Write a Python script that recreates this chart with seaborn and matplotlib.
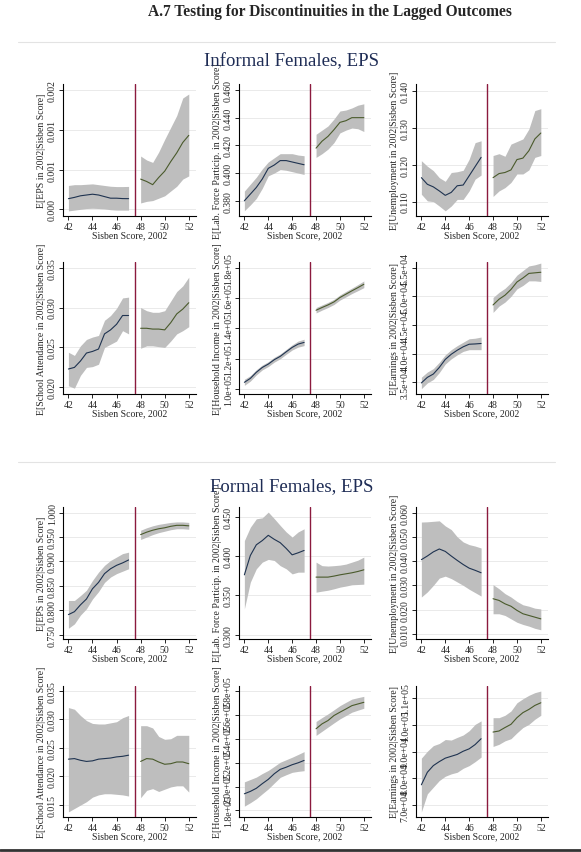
import matplotlib
matplotlib.use("Agg")
import matplotlib.pyplot as plt
from matplotlib.lines import Line2D
import seaborn as sns
import pandas as pd

# score grid (two sides of the cutoff)
x_left = [42, 42.5, 43, 43.5, 44, 44.5, 45, 45.5, 46, 46.5, 47]
x_right = [48, 48.5, 49, 49.5, 50, 50.5, 51, 51.5, 52]
cutoff = 47.5

# ---- Informal females ----
inf_eps_l = [0.000134, 0.00015, 0.00017, 0.00018, 0.00019, 0.00018, 0.00016, 0.00014, 0.00014, 0.000135, 0.000134]
inf_eps_l_lo = [-0.00002, -0.00001, 0.0, 0.00001, 0.000013, 0.00001, 0.000005, -0.000005, -0.00001, -0.00001, -0.00001]
inf_eps_l_hi = [0.0003, 0.00031, 0.00031, 0.000315, 0.00032, 0.00031, 0.0003, 0.00029, 0.000286, 0.000286, 0.000288]
inf_eps_r = [0.00038, 0.00035, 0.00031, 0.0004, 0.00048, 0.0006, 0.00071, 0.00084, 0.00093]
inf_eps_r_lo = [0.00008, 0.0001, 0.00011, 0.00014, 0.00017, 0.00023, 0.00029, 0.00038, 0.00042]
inf_eps_r_hi = [0.00067, 0.00062, 0.00059, 0.00072, 0.00088, 0.00103, 0.00118, 0.0014, 0.00145]

inf_lfp_l = [0.380, 0.3848, 0.3896, 0.3957, 0.4034, 0.4058, 0.409, 0.409, 0.408, 0.407, 0.406]
inf_lfp_l_lo = [0.3728, 0.377, 0.3817, 0.389, 0.398, 0.400, 0.4025, 0.402, 0.401, 0.400, 0.399]
inf_lfp_l_hi = [0.387, 0.392, 0.397, 0.403, 0.408, 0.411, 0.414, 0.414, 0.414, 0.413, 0.4125]
inf_lfp_r = [0.418, 0.423, 0.4265, 0.4313, 0.4366, 0.4378, 0.440, 0.440, 0.440]
inf_lfp_r_lo = [0.4113, 0.414, 0.4173, 0.422, 0.429, 0.431, 0.4325, 0.432, 0.430]
inf_lfp_r_hi = [0.428, 0.431, 0.434, 0.439, 0.4448, 0.4455, 0.447, 0.449, 0.450]

inf_unemp_l = [0.1165, 0.1147, 0.114, 0.1129, 0.1117, 0.1125, 0.1143, 0.1145, 0.117, 0.1195, 0.122]
inf_unemp_l_lo = [0.112, 0.1102, 0.1100, 0.1088, 0.1075, 0.1088, 0.1106, 0.1106, 0.1129, 0.1161, 0.1172]
inf_unemp_l_hi = [0.1211, 0.1196, 0.1184, 0.1165, 0.1155, 0.1179, 0.1181, 0.1185, 0.1215, 0.126, 0.1265]
inf_unemp_r = [0.1165, 0.1176, 0.1179, 0.1186, 0.1214, 0.1218, 0.1238, 0.127, 0.1286]
inf_unemp_r_lo = [0.1114, 0.1129, 0.1138, 0.1152, 0.1175, 0.1175, 0.1186, 0.122, 0.1225]
inf_unemp_r_hi = [0.1225, 0.123, 0.1223, 0.1256, 0.1263, 0.127, 0.1297, 0.1347, 0.1352]

inf_school_l = [0.0223, 0.0225, 0.0233, 0.0243, 0.0245, 0.0248, 0.0267, 0.0272, 0.0279, 0.029, 0.029]
inf_school_l_lo = [0.0202, 0.0199, 0.0215, 0.0225, 0.0226, 0.0229, 0.025, 0.0254, 0.0258, 0.0271, 0.0267]
inf_school_l_hi = [0.0244, 0.024, 0.0252, 0.026, 0.0263, 0.0265, 0.0284, 0.029, 0.0299, 0.0312, 0.0313]
inf_school_r = [0.0274, 0.0274, 0.0273, 0.0273, 0.0272, 0.0281, 0.0292, 0.0298, 0.0306]
inf_school_r_lo = [0.0249, 0.0252, 0.0252, 0.0251, 0.025, 0.0258, 0.0267, 0.0271, 0.0276]
inf_school_r_hi = [0.030, 0.0296, 0.0294, 0.0294, 0.0296, 0.0308, 0.032, 0.0327, 0.0338]

inf_hhinc_l = [104400, 107000, 111000, 114200, 116400, 119300, 121500, 124500, 127400, 129600, 130700]
inf_hhinc_l_lo = [102400, 105200, 109300, 112600, 114800, 117700, 119900, 122900, 125700, 127600, 128600]
inf_hhinc_l_hi = [106400, 108800, 112700, 115800, 118000, 120900, 123100, 126100, 129100, 131600, 132800]
inf_hhinc_r = [151900, 153700, 155400, 157400, 160300, 162500, 164700, 166800, 169000]
inf_hhinc_r_lo = [150100, 152000, 153700, 155700, 158600, 160700, 162900, 164800, 166800]
inf_hhinc_r_hi = [153700, 155400, 157100, 159100, 162000, 164300, 166500, 168800, 171200]

inf_earn_l = [34900, 35870, 36450, 37600, 39000, 39900, 40600, 41200, 41650, 41700, 41780]
inf_earn_l_lo = [33900, 34900, 35500, 36700, 38200, 39100, 39800, 40400, 40700, 40700, 40700]
inf_earn_l_hi = [35900, 36800, 37400, 38500, 39800, 40700, 41400, 42000, 42600, 42700, 42900]
inf_earn_r = [48500, 49500, 50200, 51200, 52500, 53200, 54000, 54100, 54200]
inf_earn_r_lo = [47200, 48300, 49000, 50000, 51300, 51900, 52700, 52700, 52600]
inf_earn_r_hi = [49800, 50700, 51400, 52400, 53700, 54500, 55300, 55500, 55800]

# ---- Formal females ----
for_eps_l = [0.791, 0.797, 0.811, 0.823, 0.844, 0.857, 0.875, 0.885, 0.892, 0.897, 0.903]
for_eps_l_lo = [0.763, 0.772, 0.790, 0.803, 0.823, 0.838, 0.857, 0.868, 0.875, 0.880, 0.885]
for_eps_l_hi = [0.820, 0.820, 0.830, 0.841, 0.861, 0.878, 0.892, 0.902, 0.909, 0.916, 0.919]
for_eps_r = [0.955, 0.960, 0.964, 0.967, 0.969, 0.972, 0.974, 0.974, 0.973]
for_eps_r_lo = [0.945, 0.950, 0.955, 0.959, 0.962, 0.965, 0.967, 0.967, 0.966]
for_eps_r_hi = [0.964, 0.969, 0.973, 0.976, 0.978, 0.980, 0.981, 0.981, 0.980]

for_lfp_l = [0.3763, 0.401, 0.4146, 0.420, 0.4267, 0.4216, 0.4173, 0.410, 0.4018, 0.4044, 0.4074]
for_lfp_l_lo = [0.3329, 0.367, 0.384, 0.3925, 0.396, 0.3946, 0.388, 0.384, 0.3775, 0.3797, 0.3797]
for_lfp_l_hi = [0.420, 0.437, 0.4477, 0.449, 0.4563, 0.448, 0.4393, 0.431, 0.4245, 0.431, 0.435]
for_lfp_r = [0.3734, 0.3734, 0.3734, 0.3747, 0.3763, 0.3776, 0.3789, 0.3806, 0.3827]
for_lfp_r_lo = [0.3542, 0.3555, 0.3567, 0.3585, 0.3606, 0.3620, 0.3636, 0.3640, 0.3644]
for_lfp_r_hi = [0.3925, 0.388, 0.3875, 0.388, 0.3887, 0.390, 0.3925, 0.395, 0.3989]

for_unemp_l = [0.0406, 0.0421, 0.0438, 0.0450, 0.044, 0.0421, 0.0403, 0.0386, 0.0371, 0.0362, 0.0352]
for_unemp_l_lo = [0.0252, 0.0273, 0.030, 0.033, 0.0338, 0.0328, 0.0314, 0.030, 0.0284, 0.027, 0.0256]
for_unemp_l_hi = [0.0561, 0.0562, 0.0564, 0.0566, 0.0545, 0.053, 0.050, 0.0479, 0.0468, 0.0462, 0.0454]
for_unemp_r = [0.0245, 0.0238, 0.0224, 0.0214, 0.0197, 0.0183, 0.0176, 0.0169, 0.0162]
for_unemp_r_lo = [0.0183, 0.0183, 0.0176, 0.0162, 0.0148, 0.0139, 0.0132, 0.0123, 0.0117]
for_unemp_r_hi = [0.0303, 0.0286, 0.0266, 0.0252, 0.0234, 0.022, 0.0214, 0.0206, 0.0203]

for_school_l = [0.0230, 0.0231, 0.0228, 0.0226, 0.0227, 0.023, 0.0231, 0.0232, 0.0234, 0.0235, 0.0237]
for_school_l_lo = [0.0137, 0.0143, 0.0149, 0.0155, 0.0163, 0.0167, 0.0169, 0.0169, 0.0168, 0.0167, 0.0165]
for_school_l_hi = [0.0321, 0.0318, 0.0307, 0.0298, 0.0293, 0.0292, 0.0292, 0.0294, 0.0296, 0.0303, 0.0307]
for_school_r = [0.0226, 0.0231, 0.0230, 0.0225, 0.0221, 0.0222, 0.0225, 0.0225, 0.0222]
for_school_r_lo = [0.0162, 0.0175, 0.0178, 0.0173, 0.0177, 0.0181, 0.0183, 0.0183, 0.0172]
for_school_r_hi = [0.0289, 0.0289, 0.0285, 0.0270, 0.0265, 0.0266, 0.0272, 0.0272, 0.0272]

for_hhinc_l = [194000, 196000, 198600, 202500, 206100, 210800, 214500, 216300, 218400, 220000, 222000]
for_hhinc_l_lo = [183600, 186500, 189800, 194000, 198100, 203000, 207800, 210000, 212000, 212800, 213400]
for_hhinc_l_hi = [204000, 206000, 208000, 211000, 213600, 217000, 220500, 222600, 224700, 227000, 229400]
for_hhinc_r = [248600, 252700, 255500, 259700, 262500, 265200, 268000, 269400, 270800]
for_hhinc_r_lo = [243000, 246500, 250000, 253500, 256900, 259700, 262500, 264200, 265800]
for_hhinc_r_hi = [254700, 258000, 261100, 264500, 268000, 270800, 273500, 274700, 275800]

for_earn_l = [77500, 82200, 84700, 86200, 87500, 88200, 88900, 90100, 91000, 92600, 94800]
for_earn_l_lo = [67300, 74100, 76600, 79100, 80700, 81600, 82200, 83700, 84700, 86200, 87900]
for_earn_l_hi = [87500, 90100, 92200, 93000, 94500, 94300, 95300, 96200, 97800, 100200, 101500]
for_earn_r = [97300, 97700, 99000, 100200, 102700, 104600, 105800, 107300, 108300]
for_earn_r_lo = [91900, 92700, 94000, 94800, 97000, 99000, 100200, 102100, 103600]
for_earn_r_hi = [102700, 102700, 103600, 105200, 108300, 109800, 111100, 112100, 112700]

ylabels = [
    "E[EPS in 2002|Sisben Score]",
    "E[Lab. Force Particip. in 2002|Sisben Score]",
    "E[Unemployment in 2002|Sisben Score]",
    "E[School Attendance in 2002|Sisben Score]",
    "E[Household Income in 2002|Sisben Score]",
    "E[Earnings in 2002|Sisben Score]",
]

sns.set_style("ticks")
plt.rcParams["font.family"] = ["Liberation Serif", "DejaVu Serif"]

W, H = 581, 853
fig = plt.figure(figsize=(W / 100, H / 100), dpi=100)
fig.patch.set_facecolor("white")


def rect(l, r, t, b):
    return [l / W, 1 - b / H, (r - l) / W, (b - t) / H]


cols = [(63, 196), (239, 371), (416, 548)]
rows = [(85, 217), (263, 395), (508, 640), (687, 818)]

panels = [
    # informal
    (inf_eps_l, inf_eps_l_lo, inf_eps_l_hi, inf_eps_r, inf_eps_r_lo, inf_eps_r_hi,
     [0, 0.0005, 0.001, 0.0015], (-0.000084, 0.001576), "%.3f"),
    (inf_lfp_l, inf_lfp_l_lo, inf_lfp_l_hi, inf_lfp_r, inf_lfp_r_lo, inf_lfp_r_hi,
     [0.38, 0.40, 0.42, 0.44, 0.46], (0.369, 0.4643), "%.3f"),
    (inf_unemp_l, inf_unemp_l_lo, inf_unemp_l_hi, inf_unemp_r, inf_unemp_r_lo, inf_unemp_r_hi,
     [0.11, 0.12, 0.13, 0.14], (0.1061, 0.1419), "%.3f"),
    (inf_school_l, inf_school_l_lo, inf_school_l_hi, inf_school_r, inf_school_r_lo, inf_school_r_hi,
     [0.020, 0.025, 0.030, 0.035], (0.01917, 0.0357), "%.3f"),
    (inf_hhinc_l, inf_hhinc_l_lo, inf_hhinc_l_hi, inf_hhinc_r, inf_hhinc_r_lo, inf_hhinc_r_hi,
     [1.0e5, 1.2e5, 1.4e5, 1.6e5, 1.8e5], (96700, 183700), "%.1e"),
    (inf_earn_l, inf_earn_l_lo, inf_earn_l_hi, inf_earn_r, inf_earn_r_lo, inf_earn_r_hi,
     [3.5e4, 4.0e4, 4.5e4, 5.0e4, 5.5e4], (32970, 55990), "%.1e"),
    # formal
    (for_eps_l, for_eps_l_lo, for_eps_l_hi, for_eps_r, for_eps_r_lo, for_eps_r_hi,
     [0.75, 0.80, 0.85, 0.90, 0.95, 1.00], (0.741, 1.0116), "%.3f"),
    (for_lfp_l, for_lfp_l_lo, for_lfp_l_hi, for_lfp_r, for_lfp_r_lo, for_lfp_r_hi,
     [0.30, 0.35, 0.40, 0.45], (0.2945, 0.4628), "%.3f"),
    (for_unemp_l, for_unemp_l_lo, for_unemp_l_hi, for_unemp_r, for_unemp_r_lo, for_unemp_r_hi,
     [0.01, 0.02, 0.03, 0.04, 0.05, 0.06], (0.0079, 0.0623), "%.3f"),
    (for_school_l, for_school_l_lo, for_school_l_hi, for_school_r, for_school_r_lo, for_school_r_hi,
     [0.015, 0.020, 0.025, 0.030, 0.035], (0.0128, 0.0359), "%.3f"),
    (for_hhinc_l, for_hhinc_l_lo, for_hhinc_l_hi, for_hhinc_r, for_hhinc_r_lo, for_hhinc_r_hi,
     [1.8e5, 2.0e5, 2.2e5, 2.4e5, 2.6e5, 2.8e5], (174500, 284500), "%.1e"),
    (for_earn_l, for_earn_l_lo, for_earn_l_hi, for_earn_r, for_earn_r_lo, for_earn_r_hi,
     [7e4, 8e4, 9e4, 1.0e5, 1.1e5], (65400, 114600), "%.1e"),
]

band_col = "#bebebe"
left_col = "#1f3350"
right_col = "#4a5a2c"
cut_col = "#8b1a3e"

for i, p in enumerate(panels):
    ml, lol, hil, mr, lor, hir, yt, ylim, fmt = p
    r = rows[i // 3]
    c = cols[i % 3]
    ax = fig.add_axes(rect(c[0], c[1], r[0], r[1]))
    ax.set_facecolor("white")
    ax.yaxis.grid(True, color="#e6e6e6", lw=0.6, zorder=0)
    ax.set_axisbelow(True)

    ax.fill_between(x_left, lol, hil, color=band_col, lw=0, zorder=1)
    ax.fill_between(x_right, lor, hir, color=band_col, lw=0, zorder=1)
    dl = pd.DataFrame({"x": x_left, "y": ml})
    dr = pd.DataFrame({"x": x_right, "y": mr})
    sns.lineplot(data=dl, x="x", y="y", ax=ax, color=left_col, lw=0.8, estimator=None, zorder=3)
    sns.lineplot(data=dr, x="x", y="y", ax=ax, color=right_col, lw=0.8, estimator=None, zorder=3)
    ax.axvline(cutoff, color=cut_col, lw=1.0, zorder=4)

    ax.set_xlim(41.55, 52.6)
    ax.set_ylim(*ylim)
    ax.set_xticks([42, 44, 46, 48, 50, 52])
    ax.set_yticks(yt)
    ax.set_yticklabels([fmt % v for v in yt], rotation=90, va="center")
    ax.tick_params(axis="both", labelsize=7, length=3, width=0.6, pad=1.5, color="black")
    sns.despine(ax=ax)
    for s in ["left", "bottom"]:
        ax.spines[s].set_linewidth(0.8)
        ax.spines[s].set_color("black")
    ax.set_xlabel("Sisben Score, 2002", fontsize=7, labelpad=-0.5)
    ax.set_ylabel(ylabels[i % 6], fontsize=7, labelpad=1)

# titles and frames
fig.text(330 / W, 1 - 12 / H, "A.7 Testing for Discontinuities in the Lagged Outcomes",
         ha="center", va="center", fontsize=11.2, fontweight="bold")
fig.text(292 / W, 1 - 62 / H, "Informal Females, EPS", ha="center", va="center",
         fontsize=13.5, color="#1e2c55")
fig.text(292 / W, 1 - 487 / H, "Formal Females, EPS", ha="center", va="center",
         fontsize=13.5, color="#1e2c55")
for yy in [43, 463]:
    fig.add_artist(Line2D([18 / W, 555 / W], [1 - yy / H, 1 - yy / H], color="#e3e3e3", lw=0.8))
fig.add_artist(Line2D([0, 1], [1 - 851 / H, 1 - 851 / H], color="#333333", lw=2))

fig.savefig("out.png", dpi=100)
